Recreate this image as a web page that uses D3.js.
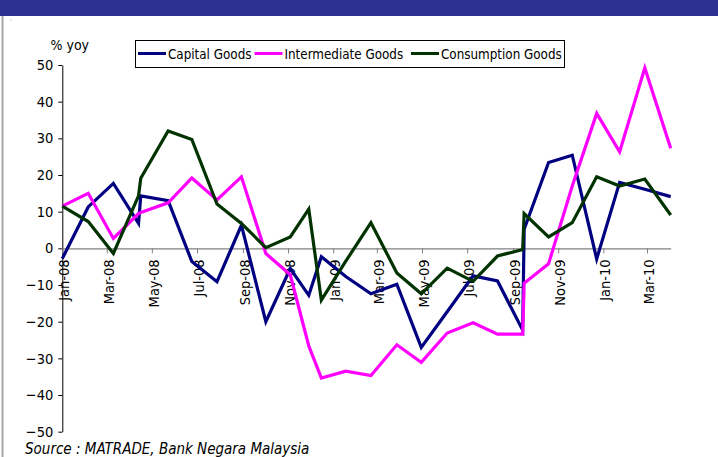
<!DOCTYPE html>
<html>
<head>
<meta charset="utf-8">
<script src="https://cdn.jsdelivr.net/npm/d3@7"></script>
<style>
  html, body { margin: 0; padding: 0; background: #ffffff; }
  svg { display: block; }
  text { font-family: "DejaVu Sans Condensed", "DejaVu Sans", sans-serif; font-stretch: condensed; fill: #000; }
</style>
</head>
<body>
<svg id="chart" width="718" height="457"></svg>
<script>
// ---- data ----
const dates = ["2008-01-01","2008-02-05","2008-03-10","2008-04-13","2008-04-16","2008-05-23","2008-06-24",
  "2008-07-28","2008-08-30","2008-10-02","2008-11-04","2008-11-29","2008-12-16","2009-01-18","2009-02-21",
  "2009-03-28","2009-04-30","2009-06-04","2009-07-09","2009-08-11","2009-09-14","2009-09-16","2009-10-19",
  "2009-11-20","2009-12-23","2010-01-23","2010-02-26","2010-04-02"];
const capitalGoods = [-2.8, 11.3, 17.7, 6.8, 14.3, 13.0, -3.6, -9.1, 6.3, -20.0, -5.5, -12.8, -2.3, -7.7,
  -12.4, -9.8, -27.0, -17.3, -7.5, -8.9, -22.3, 5.2, 23.4, 25.4, -2.9, 18.0, 16.1, 14.1];
const intermediateGoods = [11.5, 15.0, 2.7, 9.5, 9.8, 12.4, 19.2, 13.2, 19.5, -1.4, -7.2, -26.6, -35.4, -33.5,
  -34.7, -26.3, -31.1, -23.1, -20.3, -23.4, -23.4, -9.5, -4.2, 17.0, 36.8, 26.3, 49.2, 27.3];
const consumptionGoods = [11.5, 7.3, -1.4, 14.3, 19.1, 32.0, 29.7, 12.1, 6.8, 0.2, 3.1, 10.7, -14.1, -3.5,
  7.0, -6.7, -12.4, -5.4, -9.0, -2.1, -0.3, 9.5, 3.1, 7.0, 19.5, 17.0, 18.9, 9.1];
const seriesNames = ["Capital Goods", "Intermediate Goods", "Consumption Goods"];
const seriesColors = ["#000080", "#ff00ff", "#003300"];
const xTickLabels = ["Jan-08","Mar-08","May-08","Jul-08","Sep-08","Nov-08","Jan-09","Mar-09","May-09",
  "Jul-09","Sep-09","Nov-09","Jan-10","Mar-10"];
const yTicks = [50, 40, 30, 20, 10, 0, -10, -20, -30, -40, -50];
const yLabel = "% yoy";
const sourceText = "Source : MATRADE, Bank Negara Malaysia";

// ---- setup ----
const svg = d3.select("#chart");
const parseDate = d3.utcParse("%Y-%m-%d");
const parseTick = d3.utcParse("%b-%y");
const xDates = dates.map(parseDate);
const tickDates = xTickLabels.map(parseTick);
const allSeries = [capitalGoods, intermediateGoods, consumptionGoods];

const x = d3.scaleUtc().domain([xDates[0], xDates[xDates.length - 1]]).range([62.3, 670.7]);
const y = d3.scaleLinear().domain([-50, 50]).range([431.7, 65]);

// banner & frame
svg.append("rect").attr("x", 0).attr("y", 0).attr("width", 718).attr("height", 16).attr("fill", "#2e3192");
svg.append("rect").attr("x", 1.5).attr("y", 16).attr("width", 2).attr("height", 441).attr("fill", "#a6a6a6");
svg.append("rect").attr("x", 10.5).attr("y", 19.5).attr("width", 1).attr("height", 1).attr("fill", "#999");

// y axis
const yAxis = svg.append("g")
  .attr("transform", "translate(62.3,0)")
  .call(d3.axisLeft(y).tickValues(yTicks).tickSize(4).tickSizeOuter(0).tickPadding(5).tickFormat(d3.format("d")));
yAxis.select(".domain").attr("stroke", "#000").attr("stroke-width", 1);
yAxis.selectAll(".tick line").attr("stroke", "#000");
yAxis.selectAll(".tick text").style("font-size", "14.5px").attr("fill", "#000");

// x axis at zero
const xAxis = svg.append("g")
  .attr("transform", `translate(0,${y(0)})`)
  .call(d3.axisBottom(x).tickValues(tickDates).tickSize(5).tickSizeOuter(0)
    .tickFormat((d, i) => xTickLabels[i]));
xAxis.select(".domain").attr("stroke", "#808080").attr("stroke-width", 1.2);
xAxis.selectAll(".tick line").attr("stroke", "#808080");
xAxis.selectAll(".tick text")
  .style("font-size", "14.5px")
  .attr("fill", "#000")
  .attr("transform", "rotate(-90)")
  .attr("x", -11)
  .attr("y", 0)
  .attr("dy", "0.45em")
  .style("text-anchor", "end");

// lines
const line = d3.line().x((d, i) => x(xDates[i])).y(d => y(d));
allSeries.forEach((s, k) => {
  svg.append("path").datum(s)
    .attr("d", line)
    .attr("fill", "none")
    .attr("stroke", seriesColors[k])
    .attr("stroke-width", 3.2)
    .attr("stroke-linejoin", "miter")
    .attr("stroke-miterlimit", 10);
});

// y label
svg.append("text").attr("x", 50.5).attr("y", 50).style("font-size", "14px").text(yLabel);

// legend
const legend = svg.append("g");
legend.append("rect").attr("x", 135.5).attr("y", 40.5).attr("width", 429).attr("height", 27)
  .attr("fill", "#fff").attr("stroke", "#000").attr("stroke-width", 1);
const legendX = [138, 254.5, 411];
seriesNames.forEach((name, k) => {
  legend.append("line").attr("x1", legendX[k]).attr("x2", legendX[k] + 28)
    .attr("y1", 53.5).attr("y2", 53.5).attr("stroke", seriesColors[k]).attr("stroke-width", 3);
  legend.append("text").attr("x", legendX[k] + 30).attr("y", 58.5).style("font-size", "13.3px").text(name);
});

// source
svg.append("text").attr("x", 25).attr("y", 453.5).style("font-size", "15px").style("font-style", "italic").text(sourceText);
</script>
</body>
</html>
